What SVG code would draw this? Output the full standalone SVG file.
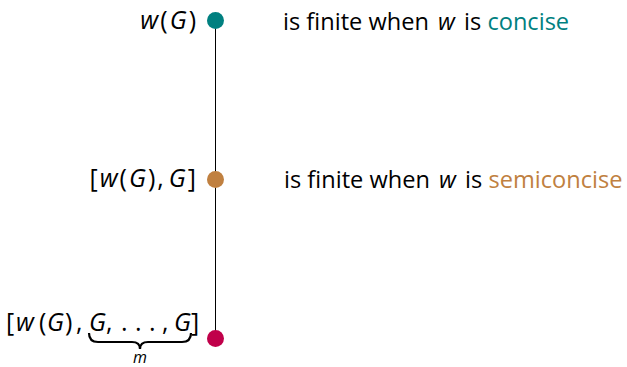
<svg xmlns="http://www.w3.org/2000/svg" width="627" height="367" viewBox="0 0 627 367">
<style>
text{font-family:"Open Sans","Liberation Sans",sans-serif;font-size:23.6px;fill:#000}
.m{font-style:italic}
.lbl{text-anchor:end;font-size:25px;letter-spacing:2px}
.seq{font-size:25px}
</style>
<rect width="627" height="367" fill="#fff"/>
<g id="connectors">
<line x1="215.5" y1="20" x2="215.5" y2="338" stroke="#000" stroke-width="1"/>
</g>
<g id="node-top">
<circle cx="215.5" cy="20.5" r="8.5" fill="#008080"/>
<text class="lbl" x="198" y="29"><tspan class="m">w</tspan>(<tspan class="m">G</tspan>)</text>
<text x="283" y="30">is finite when <tspan dx="3" class="m">w</tspan><tspan dx="3"> is </tspan><tspan fill="#008080">concise</tspan></text>
</g>
<g id="node-mid">
<circle cx="215.5" cy="179.5" r="8.5" fill="#c08040"/>
<text class="lbl" x="198" y="187">[<tspan class="m">w</tspan>(<tspan class="m">G</tspan>),<tspan dx="3" class="m">G</tspan>]</text>
<text x="284" y="188">is finite when <tspan dx="3" class="m">w</tspan><tspan dx="3"> is </tspan><tspan fill="#c08040">semiconcise</tspan></text>
</g>
<g id="node-bot">
<circle cx="215.5" cy="338.5" r="8.5" fill="#c0004a"/>
<text class="seq" y="331"><tspan x="6">[</tspan><tspan x="16" class="m">w</tspan><tspan x="39">(</tspan><tspan x="47" class="m">G</tspan><tspan x="65">)</tspan><tspan x="76">,</tspan><tspan x="89" class="m">G</tspan><tspan x="106">,</tspan><tspan x="121">.</tspan><tspan x="135">.</tspan><tspan x="149">.</tspan><tspan x="162">,</tspan><tspan x="174" class="m">G</tspan><tspan x="191">]</tspan></text>
<path d="M89,333 Q89,342 98,342 L132,342 Q140,342 140,349 Q140,342 148,342 L182,342 Q191,342 191,333" fill="none" stroke="#000" stroke-width="2.2"/>
<text class="m" x="140" y="363" style="font-size:16px;text-anchor:middle">m</text>
</g>
</svg>
